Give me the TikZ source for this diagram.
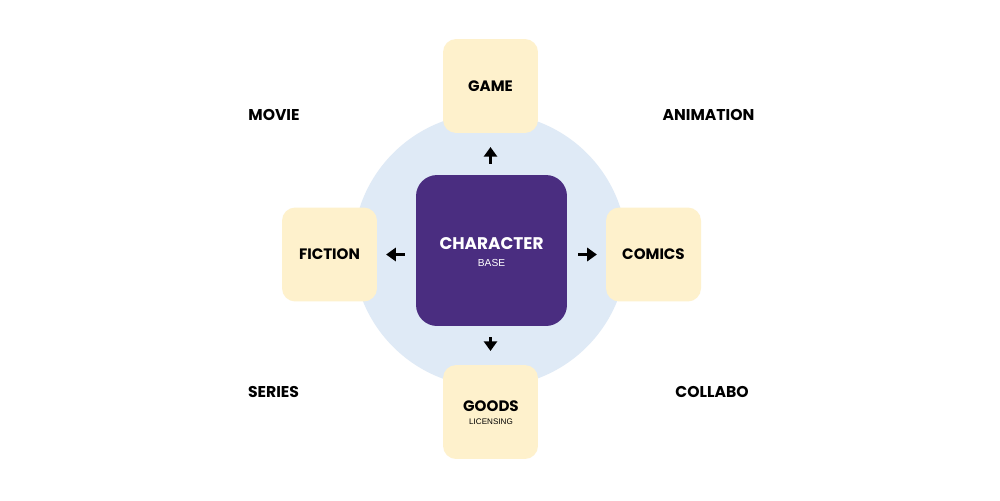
\documentclass[tikz,border=0pt]{standalone}
\usepackage{fontspec}
\setmainfont{Poppins}[BoldFont={* Bold}]
\newfontfamily\arialf{Liberation Sans}
\usetikzlibrary{arrows.meta}
\definecolor{hub}{HTML}{4A2D80}
\definecolor{ring}{HTML}{DFEAF6}
\definecolor{pale}{HTML}{FEF1CC}
\tikzset{
  x=0.02cm, y=-0.02cm,
  sat/.style={fill=pale, rounded corners=7.5pt, minimum width=1.9cm, minimum height=1.88cm, inner sep=0pt, align=center, font=\bfseries\fontsize{8.6}{10}\selectfont},
  lbl/.style={font=\bfseries\fontsize{8.9}{10}\selectfont},
  arr/.style={-{Triangle[width=7.5pt,length=5.5pt]}, line width=2.1pt, shorten <=6.2pt}
}
\begin{document}
\begin{tikzpicture}
\useasboundingbox (0,0) rectangle (1000,500);
\fill[white] (0,0) rectangle (1000,500);
\fill[ring] (490,250) circle (2.74cm);
\node[fill=hub, rounded corners=12pt, minimum width=3.02cm, minimum height=3.02cm, inner sep=0pt, align=center] (hub) at (491.5,250.5) {};
\node[text=white, font=\bfseries\fontsize{9.6}{12}\selectfont] (hubt) at (491.5,243.5) {CHARACTER};
\node[text=white, font=\arialf\fontsize{5.8}{7}\selectfont] (hubs) at (491.5,263) {BASE};
\node[sat] (game) at (490.5,86) {GAME};
\node[sat] (fiction) at (329.5,254.5) {FICTION};
\node[sat] (comics) at (653.5,254.5) {COMICS};
\node[sat] (goods) at (490.5,412) {};
\node[font=\bfseries\fontsize{8.6}{10}\selectfont] (goodst) at (491,406.5) {GOODS};
\node[font=\arialf\fontsize{4.6}{6}\selectfont] (goodss) at (491,422) {LICENSING};
\node[lbl] (movie) at (274,114.5) {MOVIE};
\node[lbl] (anim) at (708.5,114.5) {ANIMATION};
\node[lbl] (series) at (273.5,391.5) {SERIES};
\node[lbl] (collabo) at (712,391.5) {COLLABO};
\draw[arr, shorten >=7.8pt] (game.south |- hub.north) -- (game.south);
\draw[arr, shorten >=7.8pt] (goods.north |- hub.south) -- (goods.north);
\draw[arr, shorten >=5pt] (fiction.east -| hub.west) -- (fiction.east);
\draw[arr, shorten >=5pt] (comics.west -| hub.east) -- (comics.west);
\end{tikzpicture}
\end{document}
